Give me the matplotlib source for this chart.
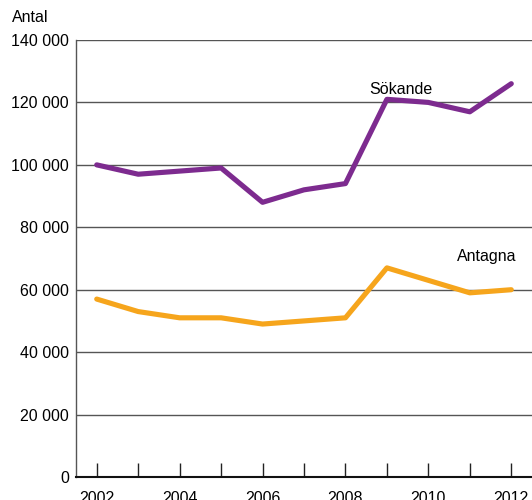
import matplotlib
matplotlib.use("Agg")
import matplotlib.pyplot as plt
from matplotlib.ticker import FuncFormatter, MultipleLocator

plt.rcParams['font.family'] = ['Liberation Sans', 'DejaVu Sans']

years = [2002, 2003, 2004, 2005, 2006, 2007, 2008, 2009, 2010, 2011, 2012]
sokande = [100000, 97000, 98000, 99000, 88000, 92000, 94000, 121000, 120000, 117000, 126000]
antagna = [57000, 53000, 51000, 51000, 49000, 50000, 51000, 67000, 63000, 59000, 60000]
year_labels = [2002, 2004, 2006, 2008, 2010, 2012]

FS = 11.5
fig = plt.figure(figsize=(5.32, 5.0), dpi=100)
ax = fig.add_axes([76/532, 1-477/500, 456/532, 437/500])

ax.plot(years, sokande, color='#7d2b8f', lw=3.7, solid_capstyle='round', solid_joinstyle='round', zorder=3)
ax.plot(years, antagna, color='#f6a51c', lw=3.7, solid_capstyle='round', solid_joinstyle='round', zorder=3)

ax.set_xlim(2001.5, 2012.5)
ax.set_ylim(0, 140000)
ax.yaxis.set_major_locator(MultipleLocator(20000))
ax.yaxis.set_major_formatter(FuncFormatter(lambda v, p: f"{int(v):,}".replace(",", " ")))
ax.grid(axis='y', color='#555555', lw=1.0)
ax.set_axisbelow(True)

ax.set_xticks(years)
ax.set_xticklabels([str(y) if y in year_labels else '' for y in years])
ax.tick_params(axis='x', direction='in', length=10, width=1, color='#222222', pad=10, labelsize=FS)
ax.tick_params(axis='y', length=0, pad=5, labelsize=FS)

for s in ['top', 'right']:
    ax.spines[s].set_visible(False)
ax.spines['left'].set_color('#555555')
ax.spines['left'].set_linewidth(1.0)
ax.spines['bottom'].set_color('#111111')
ax.spines['bottom'].set_linewidth(1.5)

ax.text(2009.34, 121600, 'Sökande', ha='center', va='bottom', fontsize=FS)
ax.text(2011.4, 68300, 'Antagna', ha='center', va='bottom', fontsize=FS)
fig.text(12/532, 1-17/500, 'Antal', ha='left', va='center', fontsize=FS)

fig.savefig('out.png', dpi=100)
